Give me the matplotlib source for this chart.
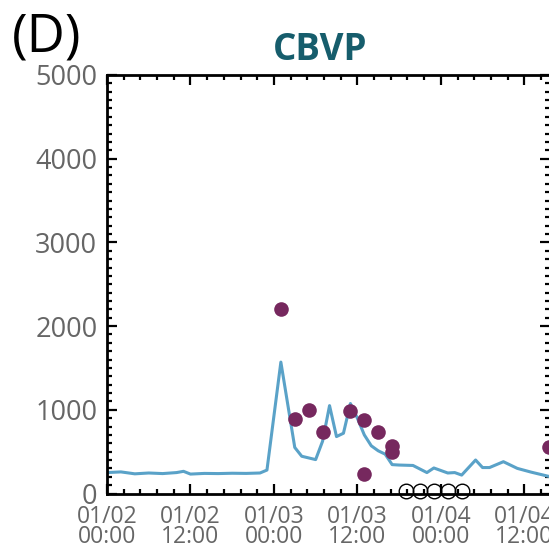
import matplotlib
matplotlib.use('Agg')
from matplotlib import pyplot as plt
from matplotlib.ticker import MultipleLocator, FixedLocator

# data (x in hours from 01/02 00:00)
line_hours = [0, 2, 4, 6, 8, 10, 11, 12, 14, 16, 18, 20, 22, 23, 25, 27, 28, 30, 31, 32,
              33, 34, 35, 36, 37, 38, 39, 40, 41, 42, 44, 46, 47, 49, 50, 51, 53, 54, 55,
              57, 59, 61, 64]
line_values = [250, 258, 235, 245, 238, 250, 265, 232, 240, 238, 242, 240, 245, 280, 1570,
               550, 445, 405, 625, 1050, 680, 720, 1075, 900, 700, 570, 510, 470, 345, 340,
               335, 250, 305, 245, 250, 220, 400, 310, 310, 380, 300, 255, 195]

obs_hours = [25, 27, 29, 31, 35, 37, 37, 39, 41, 41, 63.6]
obs_values = [2200, 890, 995, 730, 980, 880, 230, 740, 565, 495, 550]

nd_hours = [43, 45, 47, 49, 51]
nd_values = [30, 30, 30, 30, 30]

tick_hours = [0, 12, 24, 36, 48, 60]
tick_labels = ['01/02\n00:00', '01/02\n12:00', '01/03\n00:00',
               '01/03\n12:00', '01/04\n00:00', '01/04\n12:00']

plt.rcParams['font.family'] = ['Open Sans', 'DejaVu Sans']

fig = plt.figure(figsize=(5.49, 5.48), dpi=100)
ax = fig.add_axes([107 / 549, 1 - 493.5 / 548, 443 / 549, (493.5 - 75) / 548])

ax.plot(line_hours, line_values, color='#5aa2c8', lw=2.2, zorder=2)
ax.plot(obs_hours, obs_values, 'o', color='#76285e', ms=10.5, mec='none', zorder=3, clip_on=False)
ax.plot(nd_hours, nd_values, 'o', mfc='none', mec='black', mew=1.0, ms=10.5, zorder=3, clip_on=False)

ax.set_xlim(0, 63.7)
ax.set_ylim(0, 5000)

ax.xaxis.set_major_locator(FixedLocator(tick_hours))
ax.set_xticklabels(tick_labels, linespacing=0.8)
ax.xaxis.set_minor_locator(MultipleLocator(2.4))
ax.yaxis.set_major_locator(MultipleLocator(1000))
ax.yaxis.set_minor_locator(MultipleLocator(100))

ax.tick_params(which='both', direction='in', top=True, right=True, width=1.6, colors='black')
ax.tick_params(which='major', length=7)
ax.tick_params(which='minor', length=3.5)
ax.tick_params(axis='y', labelsize=19.5, labelcolor='#666666', pad=7)
ax.tick_params(axis='x', labelsize=16.5, labelcolor='#666666', pad=8)

for s in ax.spines.values():
    s.set_linewidth(2)

yt = ax.yaxis.get_major_ticks()
yt[0].label1.set_verticalalignment('baseline')
yt[-1].label1.set_verticalalignment('top')

fig.text(320 / 549, 1 - 60 / 548, 'CBVP', color='#165d6c', fontsize=26.5,
         fontweight='bold', ha='center', va='baseline')
fig.text(12 / 549, 1 - 51 / 548, '(D)', color='black', fontsize=38,
         ha='left', va='baseline')

fig.savefig('out.png', dpi=100)
